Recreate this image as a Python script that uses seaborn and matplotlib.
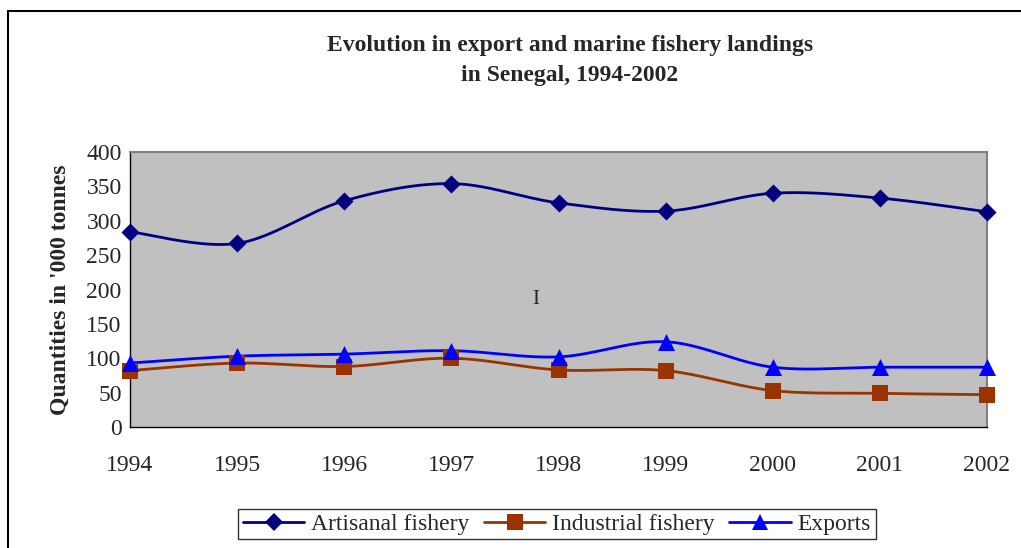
import numpy as np
import pandas as pd
import matplotlib.pyplot as plt
from matplotlib.lines import Line2D
import seaborn as sns

years = [1994, 1995, 1996, 1997, 1998, 1999, 2000, 2001, 2002]
artisanal = [284, 267, 329, 354, 326, 314, 340, 333, 313]
industrial = [82, 93, 88, 100, 83, 82, 53, 49, 47]
exports = [93, 103, 106, 111, 102, 124, 87, 87, 87]

series = ["Artisanal fishery", "Industrial fishery", "Exports"]
colors = {"Artisanal fishery": "#000080", "Industrial fishery": "#993300", "Exports": "#0000FF"}
markers = {"Artisanal fishery": "D", "Industrial fishery": "s", "Exports": "^"}
sizes = {"Artisanal fishery": 85, "Industrial fishery": 125, "Exports": 150}


def smooth(x, y, n=40):
    # excel-like smoothed line: bezier segments with catmull-rom style handles
    pts = np.column_stack([np.asarray(x, float), np.asarray(y, float)])
    out = []
    for i in range(len(pts) - 1):
        p0 = pts[max(i - 1, 0)]
        p1 = pts[i]
        p2 = pts[i + 1]
        p3 = pts[min(i + 2, len(pts) - 1)]
        c1 = p1 + (p2 - p0) / 6
        c2 = p2 - (p3 - p1) / 6
        t = np.linspace(0, 1, n)[:, None]
        seg = (1 - t) ** 3 * p1 + 3 * (1 - t) ** 2 * t * c1 + 3 * (1 - t) * t ** 2 * c2 + t ** 3 * p2
        out.append(seg if i == 0 else seg[1:])
    return np.vstack(out)


points = pd.DataFrame({
    "year": years * 3,
    "value": artisanal + industrial + exports,
    "series": [s for s in series for _ in years],
})

curves = []
for s in series:
    sub = points[points.series == s]
    c = smooth(sub.year, sub.value)
    curves.append(pd.DataFrame({"x": c[:, 0], "y": c[:, 1], "series": s}))
curves = pd.concat(curves, ignore_index=True)

sns.set_style("white")
plt.rcParams["font.family"] = ["Liberation Serif", "DejaVu Serif"]

fig = plt.figure(figsize=(10.21, 5.48), dpi=100)
ax = fig.add_axes([130 / 1021, 1 - 427 / 548, (987 - 130) / 1021, (427 - 152) / 548])
ax.set_facecolor("#C0C0C0")

sns.lineplot(data=curves, x="x", y="y", hue="series", palette=colors, sort=False,
             estimator=None, legend=False, lw=2, ax=ax)
for s in series:
    sns.scatterplot(data=points[points.series == s], x="year", y="value", color=colors[s],
                    marker=markers[s], s=sizes[s], linewidth=0, legend=False, ax=ax, zorder=5)
for c in ax.collections:
    c.set_clip_on(False)

ax.set_xlim(1994, 2002)
ax.set_ylim(0, 400)
ax.set_xticks(years)
ax.set_xticklabels([str(y) for y in years])
ax.set_yticks(range(0, 401, 50))
ax.tick_params(axis="both", labelsize=17, direction="out", length=5, width=1, color="black")
ax.tick_params(axis="x", pad=15)
ax.tick_params(axis="y", pad=1)
ax.set_xlabel("")
ax.set_ylabel("Quantities in '000 tonnes", fontsize=17, fontweight="bold", labelpad=11)

for side in ["left", "bottom"]:
    ax.spines[side].set_color("black")
    ax.spines[side].set_linewidth(1)
for side in ["top", "right"]:
    ax.spines[side].set_color("#808080")
    ax.spines[side].set_linewidth(1.5)

ax.text(1997.79, 186, "I", fontsize=15, ha="center", va="center")

fig.text(570 / 1021, 1 - 46 / 548, "Evolution in export and marine fishery landings",
         fontsize=17, fontweight="bold", ha="center", va="center")
fig.text(570 / 1021, 1 - 76 / 548, "in Senegal, 1994-2002",
         fontsize=17, fontweight="bold", ha="center", va="center")

# outer chart frame (only top and left edge visible)
fig.add_artist(Line2D([8 / 1021, 8 / 1021], [0, 1 - 11 / 548], color="black", lw=1.5,
                      transform=fig.transFigure))
fig.add_artist(Line2D([8 / 1021, 1], [1 - 11 / 548, 1 - 11 / 548], color="black", lw=1.5,
                      transform=fig.transFigure))

handles = [Line2D([], [], color=colors[s], marker=markers[s], lw=2,
                  markersize={"D": 9, "s": 11, "^": 12}[markers[s]], markeredgewidth=0)
           for s in series]
leg = fig.legend(handles, series, loc="center", bbox_to_anchor=(557 / 1021, 1 - 524 / 548),
                 ncol=3, fontsize=17, frameon=True, fancybox=False, edgecolor="black",
                 handlelength=2.6, handletextpad=0.3, columnspacing=0.6, borderpad=0.2)
leg.get_frame().set_linewidth(1)

fig.savefig("out.png", dpi=100)
